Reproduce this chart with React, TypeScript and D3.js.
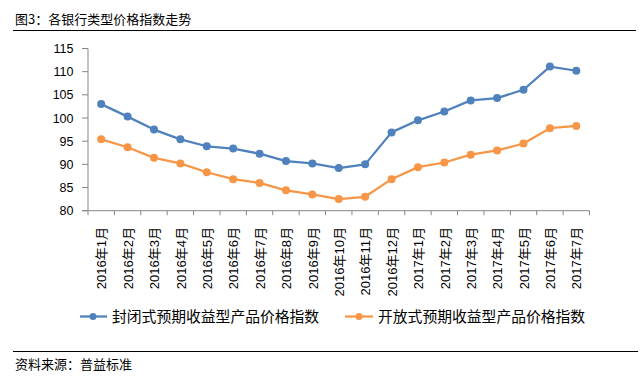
import React from "react";
import * as d3 from "d3";

const categories = [
  "2016年1月", "2016年2月", "2016年3月", "2016年4月", "2016年5月", "2016年6月",
  "2016年7月", "2016年8月", "2016年9月", "2016年10月", "2016年11月", "2016年12月",
  "2017年1月", "2017年2月", "2017年3月", "2017年4月", "2017年5月", "2017年6月", "2017年7月",
];
const closedIndex = [103.0, 100.3, 97.5, 95.4, 93.9, 93.4, 92.3, 90.7, 90.2, 89.2, 90.0, 96.9, 99.5, 101.4, 103.8, 104.3, 106.1, 111.1, 110.2];
const openIndex = [95.4, 93.7, 91.4, 90.2, 88.3, 86.8, 86.0, 84.4, 83.5, 82.5, 83.0, 86.8, 89.4, 90.4, 92.1, 93.0, 94.5, 97.8, 98.3];
const yTicks = [80, 85, 90, 95, 100, 105, 110, 115];
const seriesNames = ["封闭式预期收益型产品价格指数", "开放式预期收益型产品价格指数"];
const titleText = "图3：各银行类型价格指数走势";
const sourceText = "资料来源：普益标准";

const W = 642;
const H = 381;
const BLUE = "#4F81BD";
const ORANGE = "#F79646";
const AXIS = "#868686";
const FONT = "'Liberation Sans', Arial, 'Noto Sans CJK SC', sans-serif";
const CJK = "'Noto Sans CJK SC', 'Liberation Sans', sans-serif";

export default function App() {
  const x = d3.scaleBand<string>().domain(categories).range([88, 589.5]).paddingInner(0).paddingOuter(0);
  const y = d3.scaleLinear().domain([80, 115]).range([210.7, 48.5]);
  const cx = (c: string) => (x(c) as number) + x.bandwidth() / 2;
  const line = d3
    .line<number>()
    .x((_, i) => cx(categories[i]))
    .y((d) => y(d));

  const series = [
    { name: seriesNames[0], data: closedIndex, color: BLUE },
    { name: seriesNames[1], data: openIndex, color: ORANGE },
  ];

  const legend = [
    { x0: 80, x1: 107, mx: 93, tx: 112 },
    { x0: 345, x1: 373, mx: 359, tx: 378 },
  ];

  const y0 = y(80);

  return (
    <svg
      width={W}
      height={H}
      style={{ position: "absolute", left: 0, top: 0, background: "#fff" }}
      xmlns="http://www.w3.org/2000/svg"
    >
      <rect x={0} y={0} width={W} height={H} fill="#fff" />
      {/* title */}
      <text x={15} y={23.5} fontSize={13} fontFamily={CJK} fill="#000">
        {titleText}
      </text>
      <line x1={13} x2={636} y1={30.5} y2={30.5} stroke="#000" strokeWidth={1} />

      {/* y axis */}
      <line x1={88} x2={88} y1={y(115)} y2={y0} stroke={AXIS} strokeWidth={1} />
      {yTicks.map((t) => (
        <g key={t}>
          <line x1={82} x2={88} y1={y(t)} y2={y(t)} stroke={AXIS} strokeWidth={1} />
          <text
            x={73.5}
            y={y(t)}
            dy="0.36em"
            textAnchor="end"
            fontSize={12.5}
            fontFamily={FONT}
            fill="#000"
          >
            {t}
          </text>
        </g>
      ))}

      {/* x axis */}
      <line x1={82} x2={589.5} y1={y0} y2={y0} stroke={AXIS} strokeWidth={1} />
      {categories.map((c) => (
        <line
          key={"t" + c}
          x1={(x(c) as number) + x.bandwidth()}
          x2={(x(c) as number) + x.bandwidth()}
          y1={y0}
          y2={y0 + 4.5}
          stroke={AXIS}
          strokeWidth={1}
        />
      ))}
      <line x1={88} x2={88} y1={y0} y2={y0 + 4.5} stroke={AXIS} strokeWidth={1} />
      {categories.map((c) => (
        <text
          key={"l" + c}
          transform={`translate(${cx(c) + 0.5},227) rotate(-90)`}
          textAnchor="end"
          dy="0.36em"
          fontSize={13}
          fontFamily={FONT}
          fill="#000"
        >
          {c}
        </text>
      ))}

      {/* series */}
      {series.map((s) => (
        <g key={s.name}>
          <path d={line(s.data) || ""} fill="none" stroke={s.color} strokeWidth={2.25} strokeLinejoin="round" />
          {s.data.map((v, i) => (
            <circle key={i} cx={cx(categories[i])} cy={y(v)} r={4} fill={s.color} />
          ))}
        </g>
      ))}

      {/* legend */}
      {series.map((s, i) => (
        <g key={"lg" + s.name}>
          <line x1={legend[i].x0} x2={legend[i].x1} y1={316.5} y2={316.5} stroke={s.color} strokeWidth={2.25} />
          <circle cx={legend[i].mx} cy={316.5} r={3.5} fill={s.color} />
          <text x={legend[i].tx} y={316.5} dy="0.36em" fontSize={14.8} fontFamily={CJK} fill="#000">
            {s.name}
          </text>
        </g>
      ))}

      {/* source */}
      <line x1={13} x2={638} y1={351.5} y2={351.5} stroke="#000" strokeWidth={1} />
      <text x={15} y={364} dy="0.36em" fontSize={13} fontFamily={CJK} fill="#000">
        {sourceText}
      </text>
    </svg>
  );
}
